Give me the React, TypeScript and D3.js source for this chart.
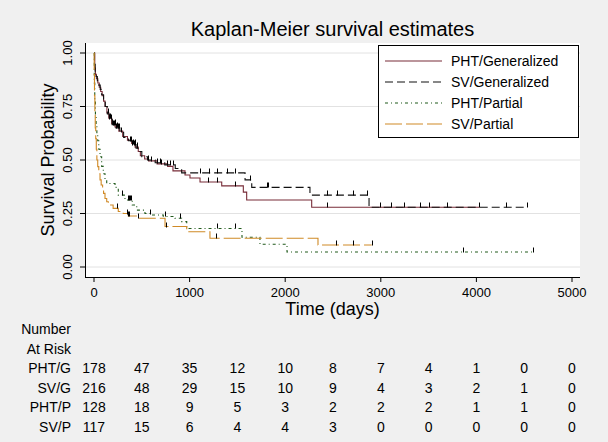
import React from "react";
import * as d3 from "d3";

const timeTicks = [0, 1000, 2000, 3000, 4000, 5000];
const survTicks = [0, 0.25, 0.5, 0.75, 1];
const survTickLabels = ["0.00", "0.25", "0.50", "0.75", "1.00"];
const atRiskTimes = [0, 500, 1000, 1500, 2000, 2500, 3000, 3500, 4000, 4500, 5000];
const groupNames = ["PHT/Generalized", "SV/Generalized", "PHT/Partial", "SV/Partial"];
const groupShort = ["PHT/G", "SV/G", "PHT/P", "SV/P"];

const atRiskPHTG = [178, 47, 35, 12, 10, 8, 7, 4, 1, 0, 0];
const atRiskSVG = [216, 48, 29, 15, 10, 9, 4, 3, 2, 1, 0];
const atRiskPHTP = [128, 18, 9, 5, 3, 2, 2, 2, 1, 1, 0];
const atRiskSVP = [117, 15, 6, 4, 4, 3, 0, 0, 0, 0, 0];

// [time, survival after step]
const stepsPHTG: [number, number][] = [
  [0, 1], [8, 0.93], [15, 0.9], [25, 0.88], [40, 0.86], [55, 0.84], [70, 0.82], [85, 0.8],
  [100, 0.775], [115, 0.75], [135, 0.72], [155, 0.695], [185, 0.67], [220, 0.655], [260, 0.635],
  [300, 0.61], [350, 0.593], [394, 0.577], [430, 0.56], [463, 0.54], [485, 0.52], [530, 0.505],
  [570, 0.496], [660, 0.482], [770, 0.47], [826, 0.449], [952, 0.43], [1004, 0.416],
  [1109, 0.397], [1336, 0.379], [1562, 0.35], [1597, 0.313], [2277, 0.279],
];
const endPHTG = 4030;
const censorPHTG = [150, 170, 190, 215, 240, 410, 425, 445, 600, 700, 1192, 1287, 1475, 2434, 3107, 3410, 4030];

const stepsSVG: [number, number][] = [
  [0, 1], [5, 0.95], [12, 0.91], [22, 0.89], [35, 0.87], [50, 0.85], [65, 0.83], [80, 0.805],
  [100, 0.78], [118, 0.75], [140, 0.715], [160, 0.69], [190, 0.665], [230, 0.65], [270, 0.63],
  [310, 0.605], [360, 0.59], [400, 0.572], [440, 0.555], [470, 0.54], [500, 0.515], [560, 0.5],
  [640, 0.487], [740, 0.477], [850, 0.46], [917, 0.44], [1580, 0.407], [1650, 0.372],
  [2259, 0.336], [2877, 0.279],
];
const endSVG = 4529;
const censorSVG = [160, 175, 195, 205, 215, 230, 250, 265, 280, 380, 390, 400, 415, 430, 450, 568, 656, 690, 760, 790, 826, 1109, 1203, 1287, 1391, 1475, 1630, 1805, 1815, 2437, 2542, 2709, 2856, 2992, 3243, 3504, 3692, 4310, 4529];

const stepsPHTP: [number, number][] = [
  [0, 1], [3, 0.86], [8, 0.78], [15, 0.71], [22, 0.66], [30, 0.62], [39, 0.59], [50, 0.55],
  [63, 0.515], [80, 0.47], [97, 0.436], [115, 0.41], [133, 0.39], [220, 0.372], [254, 0.336],
  [324, 0.313], [400, 0.29], [447, 0.266], [533, 0.25], [600, 0.243], [725, 0.236], [847, 0.228],
  [917, 0.212], [970, 0.18], [1548, 0.139], [1736, 0.106], [2019, 0.07],
];
const endPHTP = 4592;
const censorPHTP = [290, 355, 365, 375, 385, 586, 743, 900, 1287, 1475, 3860, 4592];

const stepsSVP: [number, number][] = [
  [0, 1], [2, 0.9], [5, 0.8], [9, 0.72], [13, 0.65], [18, 0.6], [24, 0.55], [30, 0.5],
  [39, 0.469], [50, 0.436], [63, 0.407], [75, 0.383], [90, 0.36], [100, 0.344], [115, 0.32],
  [133, 0.305], [150, 0.29], [200, 0.274], [254, 0.259], [306, 0.25], [359, 0.238], [450, 0.228],
  [743, 0.189], [970, 0.165], [1213, 0.134], [2343, 0.103],
];
const endSVP = 2905;
const censorSVP = [237, 345, 360, 370, 463, 750, 1276, 2531, 2709, 2905];

const series = [
  { steps: stepsPHTG, end: endPHTG, censor: censorPHTG, color: "#782c38", dash: "none" },
  { steps: stepsSVG, end: endSVG, censor: censorSVG, color: "#111111", dash: "8,4" },
  { steps: stepsPHTP, end: endPHTP, censor: censorPHTP, color: "#215a1c", dash: "3,3,1,3" },
  { steps: stepsSVP, end: endSVP, censor: censorSVP, color: "#d08a26", dash: "17,4" },
];
const atRisk = [atRiskPHTG, atRiskSVG, atRiskPHTP, atRiskSVP];

const W = 608, H = 442;
const plotL = 85, plotR = 580, plotT = 43, plotB = 277;
const font = "'Liberation Sans', Arial, sans-serif";

function survAt(steps: [number, number][], t: number) {
  let s = 1;
  for (const [st, sv] of steps) if (st <= t) s = sv;
  return s;
}

export default function App() {
  const x = d3.scaleLinear().domain([0, 5000]).range([94, 572]);
  const y = d3.scaleLinear().domain([0, 1]).range([267, 53]);
  const line = d3.line<[number, number]>().x((d) => x(d[0])).y((d) => y(d[1])).curve(d3.curveStepAfter);
  const legendX = 378, legendY = 45;
  const legendRows = [61, 82, 103, 124];
  const tableRows = [373, 392.5, 412, 431.5];
  return (
    <>
      <style>{`body{margin:0}`}</style>
      <svg width={W} height={H} style={{ display: "block", fontFamily: font }}>
        <rect x={0} y={0} width={W} height={H} fill="#f0f0f0" />
        <rect x={plotL} y={plotT} width={plotR - plotL} height={plotB - plotT} fill="#ffffff" />
        {survTicks.map((v) => (
          <line key={"g" + v} x1={plotL} x2={plotR} y1={y(v)} y2={y(v)} stroke="#e2e2e2" strokeWidth={1} />
        ))}
        {series.map((s, i) => {
          const pts: [number, number][] = [...s.steps, [s.end, s.steps[s.steps.length - 1][1]]];
          return (
            <g key={"s" + i}>
              <path d={line(pts) || ""} fill="none" stroke={s.color} strokeWidth={1.1} strokeDasharray={s.dash === "none" ? undefined : s.dash} />
              {s.censor.map((t, j) => {
                const yy = Math.round(y(survAt(s.steps, t))) + 0.5;
                const xx = Math.round(x(t)) + 0.5;
                return <line key={j} x1={xx} x2={xx} y1={yy} y2={yy - 5} stroke="#000" strokeWidth={1} />;
              })}
            </g>
          );
        })}
        <line x1={plotL + 0.5} x2={plotL + 0.5} y1={plotT} y2={plotB} stroke="#000" strokeWidth={1} />
        <line x1={plotL} x2={plotR} y1={plotB + 0.5} y2={plotB + 0.5} stroke="#000" strokeWidth={1} />
        {survTicks.map((v, i) => (
          <g key={"yt" + v}>
            <line x1={80} x2={plotL} y1={y(v)} y2={y(v)} stroke="#000" />
            <text transform={`translate(72,${y(v)}) rotate(-90)`} textAnchor="middle" fontSize={13} fill="#000">
              {survTickLabels[i]}
            </text>
          </g>
        ))}
        {timeTicks.map((v) => (
          <g key={"xt" + v}>
            <line x1={x(v)} x2={x(v)} y1={plotB} y2={plotB + 5} stroke="#000" />
            <text x={x(v)} y={297} textAnchor="middle" fontSize={13} fill="#000">{v}</text>
          </g>
        ))}
        <text transform={`translate(54,160) rotate(-90)`} textAnchor="middle" fontSize={18} fill="#000">Survival Probability</text>
        <text x={(plotL + plotR) / 2} y={315} textAnchor="middle" fontSize={18} fill="#000">Time (days)</text>
        <text x={(plotL + plotR) / 2} y={36} textAnchor="middle" fontSize={20} fill="#000">Kaplan-Meier survival estimates</text>
        <rect x={legendX + 0.5} y={legendY + 0.5} width={200} height={92} fill="#fff" stroke="#000" strokeWidth={1} />
        {series.map((s, i) => (
          <g key={"l" + i}>
            <line x1={385} x2={442} y1={legendRows[i]} y2={legendRows[i]} stroke={s.color} strokeWidth={1.1} strokeDasharray={s.dash === "none" ? undefined : s.dash} />
            <text x={451} y={legendRows[i] + 5} fontSize={14} fill="#000">{groupNames[i]}</text>
          </g>
        ))}
        <text x={71} y={334} textAnchor="end" fontSize={14} fill="#000">Number</text>
        <text x={71} y={353.5} textAnchor="end" fontSize={14} fill="#000">At Risk</text>
        {atRisk.map((row, i) => (
          <g key={"r" + i}>
            <text x={71} y={tableRows[i]} textAnchor="end" fontSize={14} fill="#000">{groupShort[i]}</text>
            {row.map((n, j) => (
              <text key={j} x={x(atRiskTimes[j])} y={tableRows[i]} textAnchor="middle" fontSize={14} fill="#000">{n}</text>
            ))}
          </g>
        ))}
      </svg>
    </>
  );
}
